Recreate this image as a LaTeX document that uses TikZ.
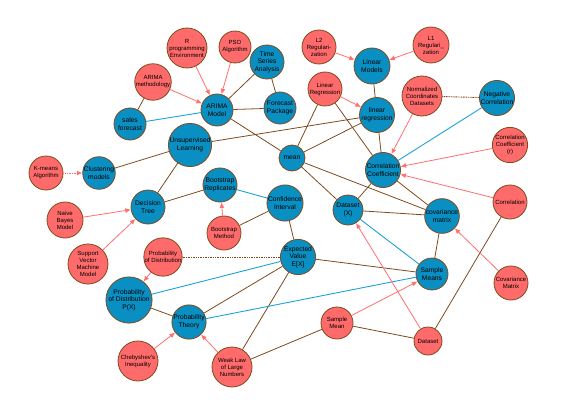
\documentclass[tikz,border=0pt]{standalone}
\usepackage{fontspec}
\setmainfont{Liberation Sans}
\usetikzlibrary{arrows.meta}

\definecolor{nodeblue}{HTML}{0A8FC2}
\definecolor{nodered}{HTML}{FF6B6B}
\definecolor{edgebrown}{HTML}{7F4A1E}
\definecolor{lineblue}{HTML}{1AA3D6}
\definecolor{linered}{HTML}{FF6F6F}

\tikzset{
  concept/.style={circle,draw=edgebrown,line width=0.8pt,inner sep=0pt,align=center},
  bnode/.style={concept,fill=nodeblue,font=\fontsize{6.7}{7.7}\selectfont},
  rnode/.style={concept,fill=nodered,font=\fontsize{6}{7}\selectfont},
  link/.style={draw=edgebrown,line width=0.8pt},
  blink/.style={draw=lineblue,line width=0.9pt},
  rlink/.style={draw=linered,line width=0.8pt,-{Latex[length=5.5pt,width=5pt]}},
  dotlink/.style={line width=0.9pt,dash pattern=on 1pt off 0.7pt},
}

\begin{document}
\begin{tikzpicture}[x=1pt,y=-1pt]
    \useasboundingbox (0,0) rectangle (573,412);

    % time series part
    \node[rnode,minimum size=40pt] (rprog) at (187,48) {R\\programming\\Environment};
    \node[rnode,minimum size=32pt] (pso) at (235,47) {PSO\\Algorithm};
    \node[bnode,minimum size=34pt] (tsa) at (267,62) {Time\\Series\\Analysis};
    \node[rnode,minimum size=35pt] (arimameth) at (153,82) {ARIMA\\methodology};
    \node[bnode,minimum size=32pt] (sales) at (130,124) {sales\\forecast};
    \node[bnode,minimum size=32pt] (arima) at (217,110) {ARIMA\\Model};
    \node[bnode,minimum size=32pt] (forecast) at (280,108) {Forecast\\Package};

    % regression part
    \node[rnode,minimum size=34pt] (ltwo) at (319,47) {L2\\Regulari-\\zation};
    \node[bnode,minimum size=36pt] (linmod) at (372,66) {Linear\\Models};
    \node[rnode,minimum size=36pt] (lone) at (431,45) {L1\\Regulari\_\\zation};
    \node[rnode,minimum size=34pt] (linregr) at (325,89) {Linear\\Regression};
    \node[bnode,minimum size=35pt] (linreg) at (377,115) {linear\\regression};
    \node[rnode,minimum size=40pt] (normal) at (422,96) {Normalized\\Coordinates\\Datasets};
    \node[bnode,minimum size=34pt] (negcorr) at (497,98) {Negative\\Correlation};
    \node[bnode,minimum size=38pt] (unsup) at (190,145) {Unsupervised\\Learning};
    \node[bnode,minimum size=26pt] (mean) at (292,158) {mean};
    \node[rnode,minimum size=34pt] (corrcoefr) at (510,145) {Correlation\\Coefficient\\(r)};
    \node[bnode,minimum size=35pt] (corrcoef) at (383,170) {Correlation\\Coefficient};

    % learning part
    \node[rnode,minimum size=34pt] (kmeans) at (46,173) {K-means\\Algorithm};
    \node[bnode,minimum size=32pt] (cluster) at (99,173) {Clustering\\models};
    \node[bnode,minimum size=32pt] (bootrep) at (220,185) {Bootstrap\\Replicates};
    \node[bnode,minimum size=32pt] (confint) at (285,203) {Confidence\\Interval};
    \node[bnode,minimum size=34pt] (dtree) at (148,207) {Decision\\Tree};
    \node[bnode,minimum size=30pt] (datax) at (348,210) {Dataset\\(X)};
    \node[bnode,minimum size=34pt] (covmat) at (442,216) {covariance\\matrix};
    \node[rnode,minimum size=34pt] (corr) at (510,202) {Correlation};
    \node[rnode,minimum size=36pt] (bayes) at (65,220) {Naive\\Bayes\\Model};
    \node[rnode,minimum size=34pt] (bootmeth) at (224,233) {Bootstrap\\Method};

    % probability part
    \node[bnode,minimum size=32pt] (expval) at (298,257) {Expected\\Value\\E[X]};
    \node[rnode,minimum size=40pt] (svm) at (88,264) {Support\\Vector\\Machine\\Model};
    \node[rnode,minimum size=38pt] (probdist) at (163,257) {Probability\\of Distribution};
    \node[bnode,minimum size=32pt] (smeans) at (432,274) {Sample\\Means};
    \node[rnode,minimum size=34pt] (covmatr) at (511,283) {Covariance\\Matrix};
    \node[bnode,minimum size=38pt] (px) at (129,300) {Probability\\of Distribution\\P(X)};
    \node[bnode,minimum size=34pt] (probth) at (189,322) {Probability\\Theory};
    \node[rnode,minimum size=32pt] (smean) at (337,323) {Sample\\Mean};
    \node[rnode,minimum size=28pt] (dataset) at (428,341) {Dataset};
    \node[rnode,minimum size=40pt] (cheb) at (138,361) {Chebyshev's\\Inequality};
    \node[rnode,minimum size=40pt] (wlln) at (232,367) {Weak Law\\of Large\\Numbers};

    % brown links
    \draw[link] (arimameth)--(sales);
    \draw[link] (tsa)--(arima);
    \draw[link] (tsa)--(forecast);
    \draw[link] (arima)--(forecast);
    \draw[link] (arima)--(mean);
    \draw[link] (linmod)--(linreg);
    \draw[link] (linregr)--(mean);
    \draw[link] (linregr)--(corrcoef);
    \draw[link] (unsup)--(linreg);
    \draw[link] (linreg)--(mean);
    \draw[link] (linreg)--(corrcoef);
    \draw[link,dotlink] (normal)--(negcorr);
    \draw[link] (mean)--(datax);
    \draw[link] (mean)--(covmat);
    \draw[link] (cluster)--(unsup);
    \draw[link] (dtree)--(unsup);
    \draw[link] (dtree)--(bootrep);
    \draw[link] (bootmeth)--(confint);
    \draw[link] (confint)--(expval);
    \draw[link] (datax)--(corrcoef);
    \draw[link] (datax)--(covmat);
    \draw[link] (corrcoef)--(covmat);
    \draw[link] (covmat)--(smeans);
    \draw[link] (expval)--(smeans);
    \draw[link] (expval)--(probth);
    \draw[link] (expval)--(wlln);
    \draw[link,dotlink] (probdist)--(expval);
    \draw[link] (px)--(probth);
    \draw[link] (smean)--(wlln);
    \draw[link] (smean)--(dataset);
    \draw[link] (dataset)--(corr);

    % blue links
    \draw[blink] (sales)--(arima);
    \draw[blink] (negcorr)--(corrcoef);
    \draw[blink] (bootrep)--(confint);
    \draw[blink] (datax)--(smeans);
    \draw[blink] (expval)--(px);
    \draw[blink] (probth)--(smeans);

    % red arrows
    \draw[rlink] (rprog)--(arima);
    \draw[rlink] (pso)--(arima);
    \draw[rlink] (arimameth)--(arima);
    \draw[rlink] (ltwo)--(linmod);
    \draw[rlink] (lone)--(linmod);
    \draw[rlink] (linregr)--(linreg);
    \draw[rlink] (normal)--(corrcoef);
    \draw[rlink] (corrcoefr)--(corrcoef);
    \draw[rlink] (corr)--(corrcoef);
    \draw[rlink,dotlink] (kmeans)--(cluster);
    \draw[rlink] (bayes)--(dtree);
    \draw[rlink] (svm)--(dtree);
    \draw[rlink] (bootmeth)--(bootrep);
    \draw[rlink] (probdist)--(px);
    \draw[rlink] (cheb)--(probth);
    \draw[rlink] (wlln)--(probth);
    \draw[rlink] (covmatr)--(covmat);
    \draw[rlink] (smean)--(smeans);
    \draw[rlink] (dataset)--(datax);
\end{tikzpicture}
\end{document}
